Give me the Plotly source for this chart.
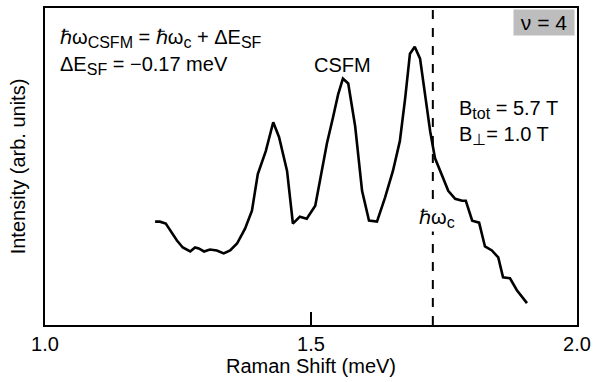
import plotly.graph_objects as go

# Raman shift (meV)
raman_shift = [1.207, 1.216, 1.227, 1.235, 1.248, 1.259, 1.273, 1.282, 1.289, 1.299,
               1.310, 1.323, 1.336, 1.348, 1.361, 1.376, 1.389, 1.400, 1.415, 1.429,
               1.440, 1.455, 1.466, 1.479, 1.492, 1.508, 1.519, 1.530, 1.541, 1.551,
               1.560, 1.570, 1.583, 1.596, 1.609, 1.624, 1.639, 1.654, 1.667, 1.677,
               1.686, 1.695, 1.705, 1.714, 1.724, 1.733, 1.748, 1.758, 1.771, 1.784,
               1.791, 1.803, 1.816, 1.827, 1.840, 1.852, 1.861, 1.874, 1.887, 1.906]
# Intensity (arb. units)
intensity = [104, 104, 102, 95, 85, 78, 74, 78, 77, 74,
             76, 75, 72, 75, 82, 97, 115, 152, 175, 204,
             189, 155, 102, 109, 107, 120, 153, 183, 208, 232,
             248, 243, 200, 135, 105, 104, 128, 155, 185, 228,
             273, 280, 268, 235, 195, 168, 148, 135, 127, 125,
             125, 105, 103, 79, 75, 68, 48, 47, 35, 22]

hw_c = 1.729
x_ticks = [1.0, 1.5, 2.0]
x_tick_labels = ["1.0", "1.5", "2.0"]

FONT = "Liberation Sans, Arial, sans-serif"
FS = 20


def sub(s, fam=None):
    style = "font-size:16px;color:black"
    if fam:
        style += ";font-family:" + fam
    return "<sub><span style='" + style + "'>" + s + "</span></sub>"


fig = go.Figure()
fig.add_trace(go.Scatter(x=raman_shift, y=intensity, mode="lines",
                         line=dict(color="black", width=2.6), showlegend=False))

fig.add_shape(type="line", xref="x", yref="paper", x0=hw_c, x1=hw_c, y0=0, y1=1,
              line=dict(color="black", width=2, dash="dash"))

anns = [
    dict(text="ℏω" + sub("CSFM") + " = ℏω" + sub("c") + " + ΔE" + sub("SF"), x=0.025, y=0.905,
         xanchor="left", yanchor="middle"),
    dict(text="ΔE" + sub("SF") + " = −0.17 meV", x=0.025, y=0.82, xanchor="left", yanchor="middle"),
    dict(text="CSFM", x=0.56, y=0.82, xanchor="center", yanchor="middle"),
    dict(text="B" + sub("tot") + " = 5.7 T", x=0.775, y=0.68, xanchor="left", yanchor="middle"),
    dict(text="B" + sub("⊥", "DejaVu Sans") + "= 1.0 T", x=0.775, y=0.595, xanchor="left", yanchor="middle"),
]
for a in anns:
    fig.add_annotation(xref="paper", yref="paper", showarrow=False,
                       font=dict(family=FONT, size=FS, color="black"), **a)

fig.add_annotation(xref="paper", yref="paper", x=0.737, y=0.335, showarrow=False,
                   text="ℏω" + sub("c"), bgcolor="white", borderpad=0,
                   font=dict(family=FONT, size=FS, color="black"),
                   xanchor="center", yanchor="middle")

fig.add_annotation(xref="paper", yref="paper", x=0.997, y=0.997, showarrow=False,
                   text="&nbsp;ν = 4&nbsp;", bgcolor="#bdbdbd", borderpad=1,
                   font=dict(family=FONT, size=FS + 1, color="black"),
                   xanchor="right", yanchor="top")

fig.update_xaxes(range=[1.0, 2.0], tickvals=x_ticks, ticktext=x_tick_labels,
                 ticks="inside", ticklen=13, tickwidth=2, tickcolor="black",
                 showline=True, linewidth=2, linecolor="black", mirror=True,
                 showgrid=False, zeroline=False,
                 title=dict(text="Raman Shift (meV)", font=dict(family=FONT, size=FS, color="black"),
                            standoff=4),
                 tickfont=dict(family=FONT, size=FS, color="black"))
fig.update_yaxes(range=[0, 319], showticklabels=False, ticks="",
                 showline=True, linewidth=2, linecolor="black", mirror=True,
                 showgrid=False, zeroline=False,
                 title=dict(text="Intensity (arb. units)", font=dict(family=FONT, size=FS, color="black"),
                            standoff=12))

fig.update_layout(width=602, height=382, margin=dict(l=45, r=25, t=6, b=57),
                  plot_bgcolor="white", paper_bgcolor="white")

fig.write_html("out.html")
